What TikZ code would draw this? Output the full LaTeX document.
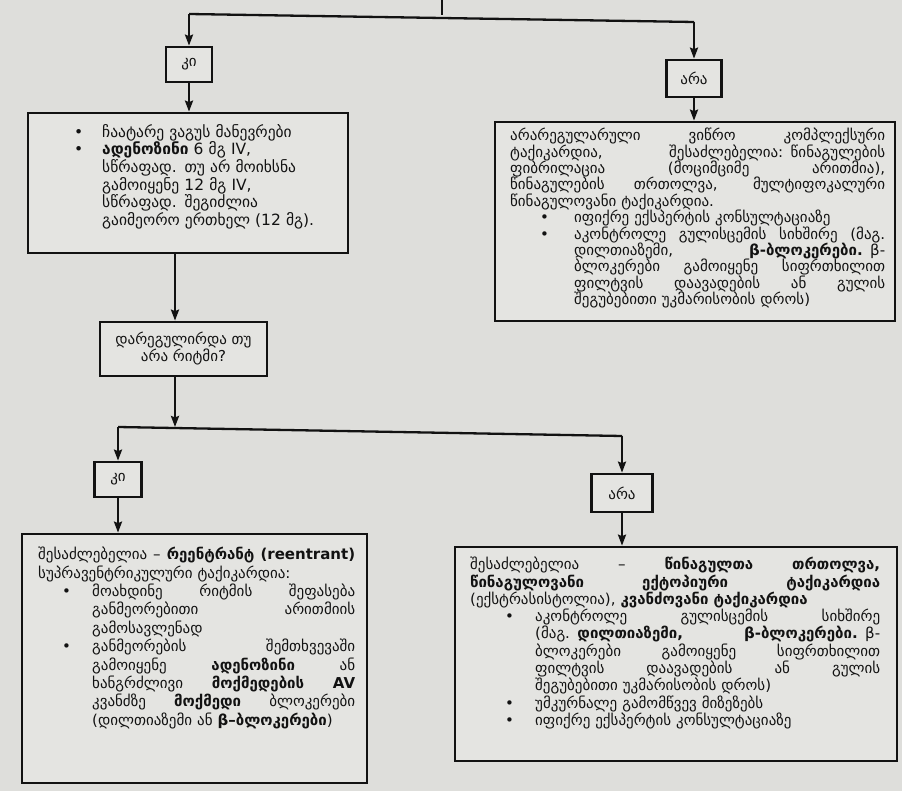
\documentclass[tikz,border=0pt]{standalone}
\usepackage{fontspec}
\setmainfont{DejaVu Sans}
\usetikzlibrary{arrows.meta}

\definecolor{paper}{RGB}{222,222,219}
\definecolor{boxfill}{RGB}{228,228,225}
\definecolor{ink}{RGB}{18,18,18}

% justified line of a given width (spaces made stretchable again)
\newcommand{\jl}[2]{\makebox[#1][s]{\spaceskip=0.33em plus 20em\relax #2}}
% bullet followed by a hanging indent
\newcommand{\bul}[1]{\makebox[#1][l]{•}}

\tikzset{
  frame/.style={draw=ink, line width=2.7pt, fill=boxfill, inner sep=0pt},
  tag/.style={frame, font=\fontsize{15}{17}\selectfont, text=ink},
  conn/.style={draw=ink, line width=2.3pt},
  arr/.style={conn, -{Stealth[length=11pt,width=8pt,inset=1.5pt]}},
  txt/.style={anchor=north west, inner sep=0pt, align=left, text=ink}
}

\begin{document}
\begin{tikzpicture}[x=1pt,y=-1pt]
\useasboundingbox[fill=paper] (0,0) rectangle (902,791);

% ---- boxes ----
\node[tag, minimum width=46pt, minimum height=35pt] (yesA) at (189,64.5) {კი};
\node[tag, minimum width=55pt, minimum height=37pt] (noA) at (694,78.5) {არა};
\node[frame, minimum width=320pt, minimum height=140pt] (care) at (188,183) {};
\node[frame, minimum width=400pt, minimum height=199pt] (afib) at (695,221.5) {};
\node[tag, minimum width=167pt, minimum height=54pt, align=center] (check) at (183.5,349)
  {დარეგულირდა თუ\\არა რიტმი?};
\node[tag, minimum width=47pt, minimum height=35pt] (yesB) at (118,479.5) {კი};
\node[tag, minimum width=61pt, minimum height=38pt] (noB) at (622,493) {არა};
\node[frame, minimum width=345pt, minimum height=249pt] (svt) at (194.5,658.5) {};
\node[frame, minimum width=442pt, minimum height=214pt] (flut) at (676,654) {};

% ---- box texts ----
\node[txt, text width=290pt, font=\fontsize{15.5}{16}\selectfont] (careT) at (74,124) {%
\bul{28pt}ჩაატარე ვაგუს მანევრები\\
\bul{28pt}\textbf{ადენოზინი} 6 მგ IV,\\
\hspace*{28pt}სწრაფად. თუ არ მოიხსნა\\
\hspace*{28pt}გამოიყენე 12 მგ IV,\\
\hspace*{28pt}სწრაფად. შეგიძლია\\
\hspace*{28pt}გაიმეორო ერთხელ (12 მგ).};

\node[txt, text width=380pt, font=\fontsize{15}{16.4}\selectfont] (afibT) at (510,128) {%
\jl{375pt}{არარეგულარული ვიწრო კომპლექსური}\\
\jl{375pt}{ტაქიკარდია, შესაძლებელია: წინაგულების}\\
\jl{375pt}{ფიბრილაცია (მოციმციმე არითმია),}\\
\jl{375pt}{წინაგულების თრთოლვა, მულტიფოკალური}\\
წინაგულოვანი ტაქიკარდია.\\
\hspace*{30pt}\bul{34pt}იფიქრე ექსპერტის კონსულტაციაზე\\
\hspace*{30pt}\bul{34pt}\jl{311pt}{აკონტროლე გულისცემის სიხშირე (მაგ.}\\
\hspace*{64pt}\jl{311pt}{დილთიაზემი, \textbf{β-ბლოკერები.} β-}\\
\hspace*{64pt}\jl{311pt}{ბლოკერები გამოიყენე სიფრთხილით}\\
\hspace*{64pt}\jl{311pt}{ფილტვის დაავადების ან გულის}\\
\hspace*{64pt}შეგუბებითი უკმარისობის დროს)};

\node[txt, text width=330pt, font=\fontsize{15}{18.4}\selectfont] (svtT) at (38,547) {%
\jl{317pt}{შესაძლებელია – \textbf{რეენტრანტ (reentrant)}}\\
სუპრავენტრიკულური ტაქიკარდია:\\
\hspace*{24pt}\bul{30pt}\jl{263pt}{მოახდინე რიტმის შეფასება}\\
\hspace*{54pt}\jl{263pt}{განმეორებითი არითმიის}\\
\hspace*{54pt}გამოსავლენად\\
\hspace*{24pt}\bul{30pt}\jl{263pt}{განმეორების შემთხვევაში}\\
\hspace*{54pt}\jl{263pt}{გამოიყენე \textbf{ადენოზინი} ან}\\
\hspace*{54pt}\jl{263pt}{ხანგრძლივი \textbf{მოქმედების AV}}\\
\hspace*{54pt}\jl{263pt}{კვანძზე \textbf{მოქმედი} ბლოკერები}\\
\hspace*{54pt}(დილთიაზემი ან \textbf{β–ბლოკერები})};

\node[txt, text width=420pt, font=\fontsize{15}{17.3}\selectfont] (flutT) at (470,557) {%
\jl{410pt}{შესაძლებელია – \textbf{წინაგულთა თრთოლვა,}}\\
\jl{410pt}{\textbf{წინაგულოვანი ექტოპიური ტაქიკარდია}}\\
(ექსტრასისტოლია), \textbf{კვანძოვანი ტაქიკარდია}\\
\hspace*{35pt}\bul{30pt}\jl{345pt}{აკონტროლე გულისცემის სიხშირე}\\
\hspace*{65pt}\jl{345pt}{(მაგ. \textbf{დილთიაზემი, β-ბლოკერები.} β-}\\
\hspace*{65pt}\jl{345pt}{ბლოკერები გამოიყენე სიფრთხილით}\\
\hspace*{65pt}\jl{345pt}{ფილტვის დაავადების ან გულის}\\
\hspace*{65pt}შეგუბებითი უკმარისობის დროს)\\
\hspace*{35pt}\bul{30pt}უმკურნალე გამომწვევ მიზეზებს\\
\hspace*{35pt}\bul{30pt}იფიქრე ექსპერტის კონსულტაციაზე};

% ---- connectors ----
\coordinate (top) at (442,0);
\coordinate (split) at (442,15);
\coordinate (splitL) at (189,14);
\coordinate (splitR) at (694,22);
\coordinate (mid) at (175,0);
\coordinate (split2) at (175,427);
\coordinate (split2L) at (118,427);
\coordinate (split2R) at (622,436);

\draw[conn] (top) -- (split);
\draw[conn] (splitL) -- (splitR);
\draw[arr] (splitL) -- (yesA.north);
\draw[arr] (splitR) -- (noA.north);
\draw[arr] (yesA.south) -- (yesA.south |- care.north);
\draw[arr] (noA.south) -- (noA.south |- afib.north);
\draw[arr] (care.south -| mid) -- (check.north -| mid);
\draw[arr] (check.south -| mid) -- (split2);
\draw[conn] (split2L) -- (split2R);
\draw[arr] (split2L) -- (yesB.north);
\draw[arr] (split2R) -- (noB.north);
\draw[arr] (yesB.south) -- (yesB.south |- svt.north);
\draw[arr] (noB.south) -- (noB.south |- flut.north);
\end{tikzpicture}
\end{document}
